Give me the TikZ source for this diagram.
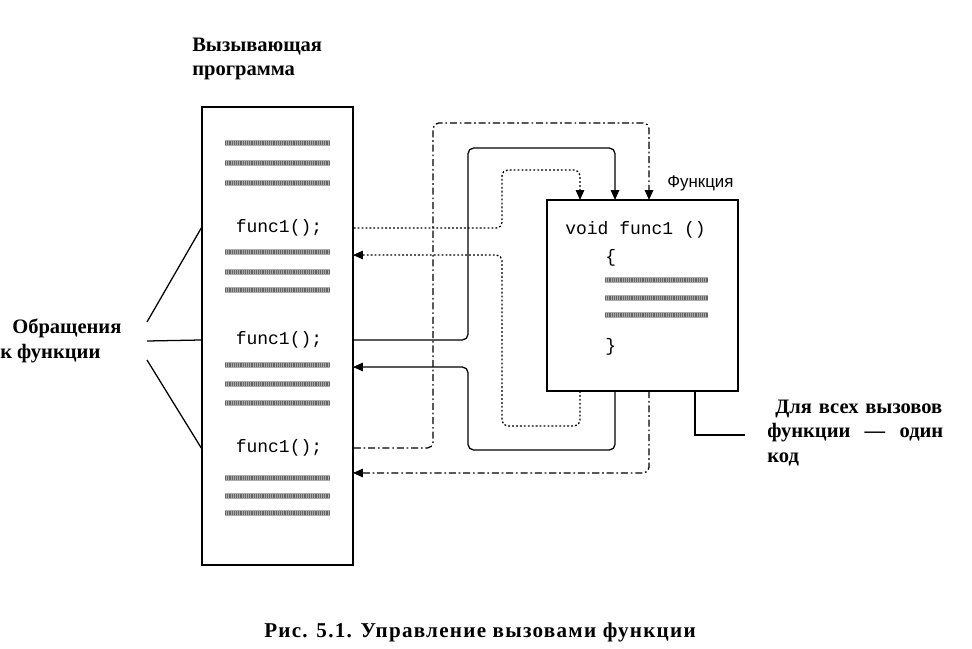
\documentclass[tikz,border=0pt]{standalone}
\usepackage{fontspec}
\setmainfont{Liberation Serif}
\setmonofont{Liberation Mono}
\newfontfamily\sansf{Liberation Sans}
\newfontfamily\capf{Liberation Serif}[LetterSpace=6]
\usetikzlibrary{arrows.meta,positioning}

\tikzset{
  box/.style={draw, line width=1pt, inner sep=0pt},
  lbl/.style={font=\fontsize{14.6}{17.5}\selectfont\bfseries, inner sep=0pt},
  code/.style={font=\fontsize{12.8}{15}\selectfont\ttfamily, inner sep=0pt},
  hatch/.style={line width=3.8pt, gray!65},
  hatchtex/.style={line width=2.6pt, black!60, dash pattern=on 0.7pt off 0.6pt},
  flow/.style={line width=0.9pt, rounded corners=4pt, -{Triangle[length=7pt,width=6pt]}},
  dots/.style={flow, dash pattern=on 1.3pt off 1.5pt},
  dashdot/.style={flow, dash pattern=on 5pt off 2pt on 1.2pt off 2pt},
  leader/.style={line width=0.9pt}
}

\begin{document}
\begin{tikzpicture}[x=0.025cm, y=-0.025cm]
  \useasboundingbox (0,0) rectangle (972,649);

  % boxes
  \node[box, minimum width=3.775cm, minimum height=11.45cm] (prog) at (277.5,336) {};
  \node[box, minimum width=4.775cm, minimum height=4.775cm] (func) at (642.5,295.5) {};

  % captions
  \node[lbl, anchor=west, align=left] (title) at (192,59) {Вызывающая\\программа};
  \node[lbl, anchor=west, align=left] (calls) at (0,341) {\hspace*{0.3cm}Обращения\\к функции};
  \node[anchor=west, inner sep=0pt, font=\fontsize{12}{14}\selectfont\sansf] (fname) at (667,183) {Функция};
  \node[lbl, anchor=west, align=left, text width=4.4cm] (note) at (767,433)
    {\hspace*{0.2cm}Для всех вызовов\\функции\hfill—\hfill один\\код};
  \node[lbl, font=\fontsize{15}{18}\selectfont\capf\bfseries] (fig) at (480,632) {Рис. 5.1. Управление вызовами функции};

  % code in the calling program
  \node[code] (call1) at (279,228) {func1();};
  \node[code] (call2) at (279,340) {func1();};
  \node[code] (call3) at (279,448) {func1();};

  % code in the function
  \node[code, anchor=west] (head) at (565,230) {void func1 ()};
  \node[code, anchor=west] (open) at (605,258) {\{};
  \node[code, anchor=west] (close) at (605,347) {\}};

  % hatched lines
  \foreach \y in {143,163,183,252,272,290,365,384,403,478,496,513} {
    \draw[hatch] (225,\y) -- (330,\y);
    \draw[hatchtex] (225,\y) -- (330,\y);
  }
  \foreach \y in {280,298,315} {
    \draw[hatch] (605,\y) -- (708,\y);
    \draw[hatchtex] (605,\y) -- (708,\y);
  }

  % ends of the connectors
  \coordinate (in1) at (580,200);
  \coordinate (in2) at (615,200);
  \coordinate (in3) at (649,200);
  \coordinate (out1) at (580,391);
  \coordinate (out2) at (615,391);
  \coordinate (out3) at (649,391);
  \coordinate (ret1) at (353,255);
  \coordinate (ret2) at (353,367);
  \coordinate (ret3) at (353,473);

  % calls and returns
  \draw[dots] (prog.east |- call1) -| (502,170) -| (in1);
  \draw[dots] (out1) |- (502,426) |- (ret1);
  \draw[flow] (prog.east |- call2) -| (468,148) -| (in2);
  \draw[flow] (out2) |- (468,450) |- (ret2);
  \draw[dashdot] (prog.east |- call3) -| (433,123) -| (in3);
  \draw[dashdot] (out3) |- (ret3);

  % leaders
  \coordinate (c1) at (147,322);
  \coordinate (c2) at (147,341);
  \coordinate (c3) at (147,360);
  \draw[leader] (c1) -- (prog.west |- call1);
  \draw[leader] (c2) -- (prog.west |- call2);
  \draw[leader] (c3) -- (prog.west |- call3);
  \coordinate (n1) at (745,435);
  \draw[leader] (func.south -| 695,0) |- (n1);
\end{tikzpicture}
\end{document}
